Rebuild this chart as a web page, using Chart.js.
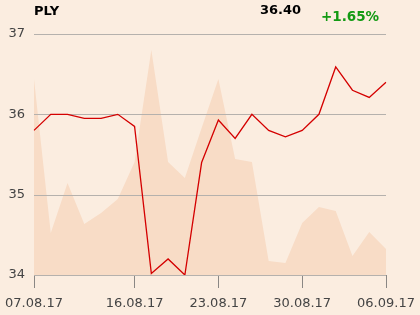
<!DOCTYPE html>
<html>
<head>
<meta charset="utf-8">
<script src="https://cdn.jsdelivr.net/npm/chart.js@4/dist/chart.umd.min.js"></script>
<style>
  html, body { margin: 0; padding: 0; background: #fbede0; }
  #wrap { position: relative; width: 420px; height: 315px; }
  canvas { position: absolute; left: 0; top: 0; }
  .t { position: absolute; font-family: "DejaVu Sans", sans-serif; font-weight: bold; white-space: nowrap; line-height: 1; }
</style>
</head>
<body>
<div id="wrap">
  <canvas id="c" width="420" height="315"></canvas>
  <div class="t" id="ticker" style="left:34px; top:4px; font-size:13px; color:#000;"></div>
  <div class="t" id="last" style="left:260px; top:3px; font-size:13px; color:#000;"></div>
  <div class="t" id="chg" style="left:321px; top:10px; font-size:13.5px; color:#139a13;"></div>
</div>
<script>
const tickerName = "PLY";
const lastPrice = "36.40";
const changeText = "+1.65%";

const dates = ["07.08.17","08.08.17","09.08.17","10.08.17","11.08.17","14.08.17","16.08.17","17.08.17","18.08.17",
  "21.08.17","22.08.17","23.08.17","24.08.17","25.08.17","28.08.17","29.08.17","30.08.17","31.08.17",
  "01.09.17","04.09.17","05.09.17","06.09.17"];
const shownDates = ["07.08.17","16.08.17","23.08.17","30.08.17","06.09.17"];
const prices = [35.80, 36.00, 36.00, 35.95, 35.95, 36.00, 35.85, 34.02, 34.20, 34.00, 35.40,
  35.93, 35.70, 36.00, 35.80, 35.72, 35.80, 36.00, 36.59, 36.30, 36.21, 36.40];
const volumes = [196, 42, 92, 51, 62, 76, 113, 225, 113, 97, 147,
  196, 116, 113, 14, 12, 52, 68, 64, 19, 43, 26];
const yTicks = [34, 35, 36, 37];

document.getElementById('ticker').textContent = tickerName;
document.getElementById('last').textContent = lastPrice;
document.getElementById('chg').textContent = changeText;

const gridOverArea = {
  id: 'gridOverArea',
  beforeDatasetDraw(chart, args) {
    if (args.index !== 0) return;
    const ctx = chart.ctx, y = chart.scales.y, a = chart.chartArea;
    ctx.save();
    ctx.strokeStyle = '#b5b1ad';
    ctx.lineWidth = 1;
    y.ticks.forEach(t => {
      const py = Math.round(y.getPixelForValue(t.value)) + 0.5;
      ctx.beginPath();
      ctx.moveTo(a.left, py);
      ctx.lineTo(a.right, py);
      ctx.stroke();
    });
    ctx.restore();
  }
};

new Chart(document.getElementById('c'), {
  type: 'line',
  data: {
    labels: dates,
    datasets: [
      { data: prices, yAxisID: 'y', borderColor: '#d40000', borderWidth: 1.3, pointRadius: 0, tension: 0, fill: false },
      { data: volumes, yAxisID: 'y2', borderWidth: 0, backgroundColor: '#f8dcc6', pointRadius: 0, tension: 0, fill: 'origin' }
    ]
  },
  options: {
    responsive: false,
    animation: false,
    events: [],
    layout: { padding: { top: 34, right: 34, left: 0, bottom: 0 } },
    plugins: { legend: { display: false }, tooltip: { enabled: false } },
    scales: {
      x: {
        type: 'category',
        offset: false,
        grid: { drawOnChartArea: false, drawTicks: true, tickLength: 13, color: '#8a8784' },
        border: { display: true, color: '#8a8784' },
        ticks: { autoSkip: false, maxRotation: 0, padding: 8, color: '#444', font: { family: 'DejaVu Sans', size: 13 } },
        afterBuildTicks(scale) {
          scale.ticks = scale.ticks.filter(t => shownDates.includes(dates[t.value]));
        },
        afterFit(scale) { scale.height = 40; scale.paddingLeft = 0; scale.paddingRight = 0; }
      },
      y: {
        min: 34, max: 37,
        afterBuildTicks(scale) { scale.ticks = yTicks.map(v => ({ value: v })); },
        grid: { drawOnChartArea: false, drawTicks: false },
        border: { display: false },
        ticks: { padding: 9, color: '#444', font: { family: 'DejaVu Sans', size: 13 } },
        afterFit(scale) { scale.width = 34; scale.paddingTop = 0; scale.paddingBottom = 0; }
      },
      y2: {
        display: false, min: 0, max: 241
      }
    }
  },
  plugins: [gridOverArea]
});
</script>
</body>
</html>
